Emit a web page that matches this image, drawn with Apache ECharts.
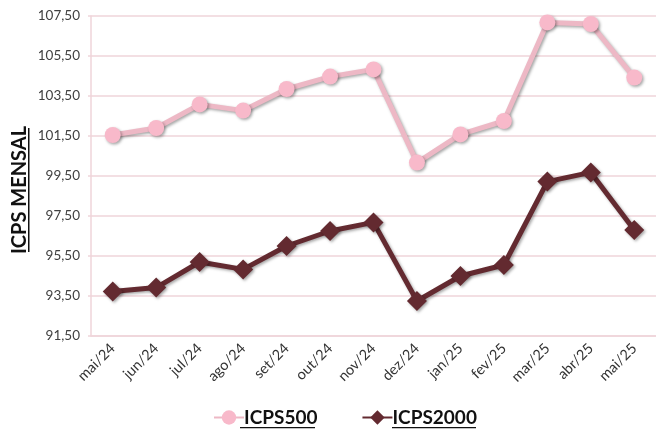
<!DOCTYPE html>
<html>
<head>
<meta charset="utf-8">
<script src="https://cdn.jsdelivr.net/npm/echarts@6/dist/echarts.min.js"></script>
<style>html,body{margin:0;padding:0;background:#fff}#c{width:656px;height:430px}</style>
</head>
<body>
<div id="c"></div>
<script>
const categories = ['mai/24','jun/24','jul/24','ago/24','set/24','out/24','nov/24','dez/24','jan/25','fev/25','mar/25','abr/25','mai/25'];
const icps500 = [101.55, 101.90, 103.08, 102.77, 103.85, 104.47, 104.83, 100.17, 101.58, 102.25, 107.18, 107.10, 104.42];
const icps2000 = [93.72, 93.92, 95.20, 94.83, 96.00, 96.75, 97.18, 93.25, 94.50, 95.05, 99.22, 99.68, 96.80];
const yMin = 91.5, yMax = 107.5, yStep = 2;
const yTitle = 'ICPS MENSAL';

const FONT = 'Lato, "Open Sans", sans-serif';
const chart = echarts.init(document.getElementById('c'), null, {renderer:'canvas'});
const shadow = {shadowColor:'rgba(0,0,0,0.35)', shadowBlur:3, shadowOffsetX:1.5, shadowOffsetY:1.5};
chart.setOption({
  animation:false,
  backgroundColor:'#fff',
  grid:{left:91, right:-7, top:16, bottom:94, containLabel:false},
  xAxis:{
    type:'category', data:categories, boundaryGap:true,
    axisLine:{show:true, lineStyle:{color:'#EFD5DA', width:1.5}},
    axisTick:{show:false},
    axisLabel:{rotate:45, margin:10, color:'#333', fontSize:14.5, fontFamily:FONT}
  },
  yAxis:{
    type:'value', min:yMin, max:yMax, interval:yStep,
    axisLine:{show:true, lineStyle:{color:'#EFD5DA', width:1.5}},
    axisTick:{show:true, length:3, inside:false, lineStyle:{color:'#EFD5DA', width:1.5}},
    splitLine:{show:true, lineStyle:{color:'#EFD5DA', width:1.5}},
    axisLabel:{margin:11, color:'#404040', fontSize:13.5, fontFamily:FONT,
      formatter:v=>v.toFixed(2).replace('.',',')}
  },
  legend:{
    left:208, top:403, itemGap:44, itemWidth:30, itemHeight:18,
    textStyle:{fontSize:19, fontWeight:'bold', color:'#111', fontFamily:FONT, padding:[0,0,0,-5]},
    data:['ICPS500','ICPS2000']
  },
  series:[
    {name:'ICPS500', type:'line', data:icps500, symbol:'circle', symbolSize:16,
      lineStyle:{color:'#EDB8C5', width:5, ...shadow},
      itemStyle:{color:'#F8B9CA', ...shadow}},
    {name:'ICPS2000', type:'line', data:icps2000, symbol:'diamond', symbolSize:20,
      lineStyle:{color:'#632A30', width:5, ...shadow},
      itemStyle:{color:'#632A30', ...shadow}}
  ],
  graphic:[
    {type:'text', x:20, y:190, rotation:Math.PI/2,
      style:{text:yTitle, font:'bold 20px '+FONT, fill:'#111', align:'center', verticalAlign:'middle'}},
    {type:'rect', shape:{x:28, y:128, width:1.5, height:124}, style:{fill:'#111'}},
    {type:'rect', shape:{x:240, y:427, width:75, height:1.3}, style:{fill:'#111'}},
    {type:'rect', shape:{x:392, y:427, width:84, height:1.3}, style:{fill:'#111'}}
  ]
});
</script>
</body>
</html>
